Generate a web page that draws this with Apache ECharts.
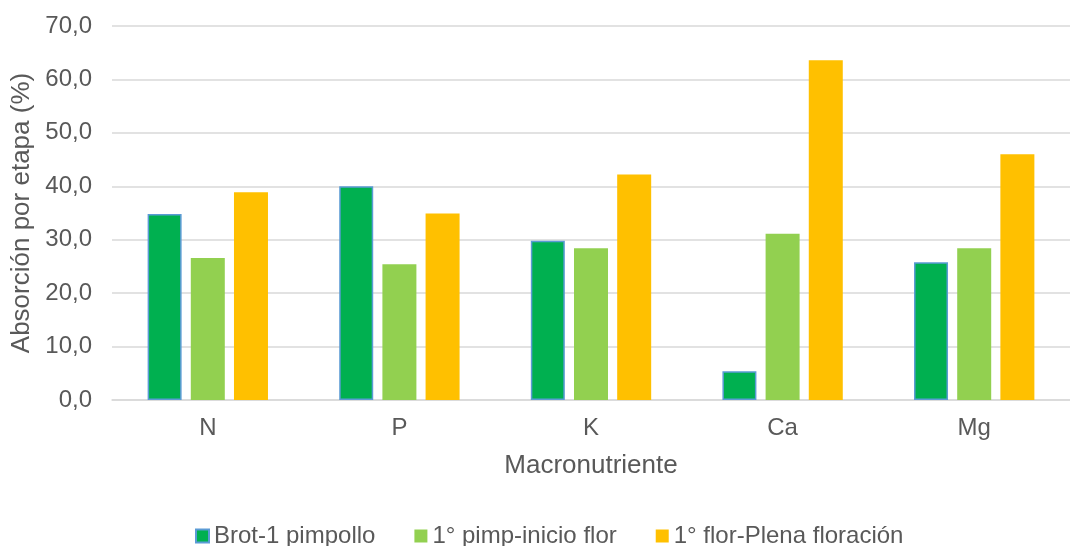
<!DOCTYPE html>
<html><head><meta charset="utf-8">
<script src="https://cdn.jsdelivr.net/npm/echarts@6/dist/echarts.min.js"></script>
<style>html,body{margin:0;padding:0;background:#fff}#c{width:1070px;height:546px}</style>
</head><body><div id="c"></div>
<script>
const categories = ['N', 'P', 'K', 'Ca', 'Mg'];
const seriesNames = ['Brot-1 pimpollo', '1° pimp-inicio flor', '1° flor-Plena floración'];
const brotPimpollo = [34.8, 40.0, 29.8, 5.4, 25.8];
const pimpInicioFlor = [26.6, 25.4, 28.4, 31.1, 28.4];
const florPlena = [38.9, 34.9, 42.2, 63.6, 46.0];
const yTicks = [0, 10, 20, 30, 40, 50, 60, 70];

const chart = echarts.init(document.getElementById('c'));
const font = 'Liberation Sans, Arial, sans-serif';
chart.setOption({
  animation: false,
  textStyle: {fontFamily: font},
  grid: {left: 112, top: 26, width: 973, height: 374, containLabel: false},
  legend: {
    left: 190, top: 519, icon: 'rect', itemWidth: 13, itemHeight: 13, itemGap: 39,
    textStyle: {fontSize: 24, color: '#595959', fontFamily: font},
    data: seriesNames
  },
  xAxis: {
    type: 'category', data: categories,
    name: 'Macronutriente', nameLocation: 'middle', nameGap: 53,
    nameTextStyle: {fontSize: 26, color: '#595959', fontFamily: font},
    axisLine: {lineStyle: {color: '#d9d9d9', width: 1.5}},
    axisTick: {show: false},
    axisLabel: {fontSize: 24, color: '#595959', margin: 16, fontFamily: font}
  },
  yAxis: {
    type: 'value', min: yTicks[0], max: yTicks[yTicks.length - 1], interval: 10,
    name: 'Absorción por etapa (%)', nameLocation: 'middle', nameGap: 71,
    nameTextStyle: {fontSize: 26, color: '#595959', fontFamily: font},
    axisLine: {show: false}, axisTick: {show: false},
    splitLine: {lineStyle: {color: '#d9d9d9', width: 1.5}},
    axisLabel: {fontSize: 24, color: '#595959', margin: 20, fontFamily: font,
      formatter: v => v.toFixed(1).replace('.', ',')}
  },
  series: [
    {name: seriesNames[0], type: 'bar', data: brotPimpollo, barWidth: 34, barGap: '27%',
     itemStyle: {color: '#00B050', borderColor: '#5B9BD5', borderWidth: 1.5}},
    {name: seriesNames[1], type: 'bar', data: pimpInicioFlor, barWidth: 34, barGap: '27%',
     itemStyle: {color: '#92D050'}},
    {name: seriesNames[2], type: 'bar', data: florPlena, barWidth: 34, barGap: '27%',
     itemStyle: {color: '#FFC000'}}
  ]
});
</script></body></html>
